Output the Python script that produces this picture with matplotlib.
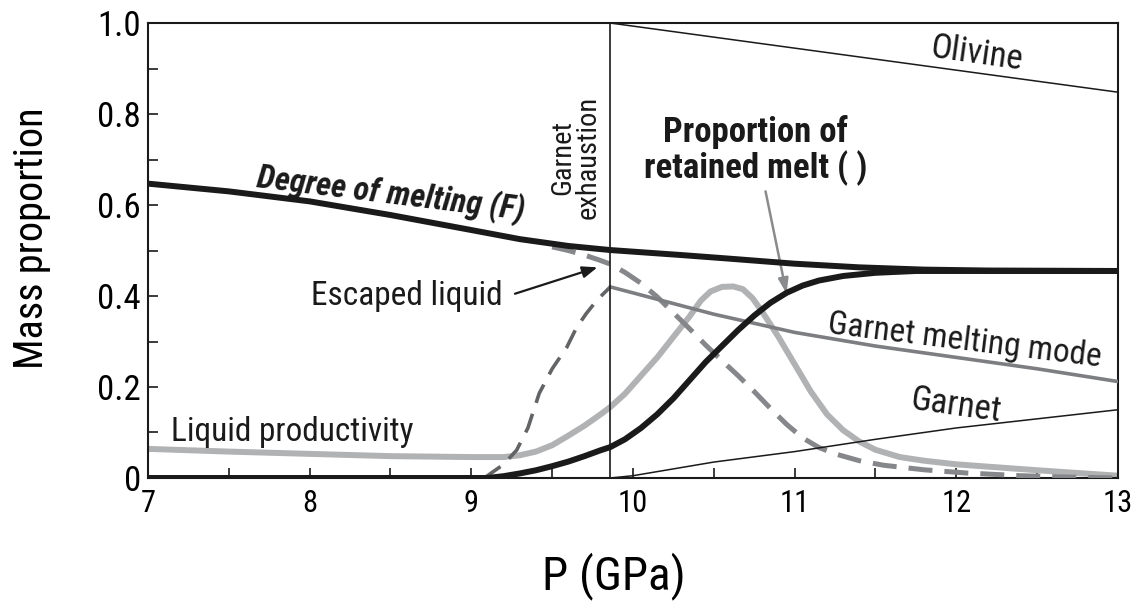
import numpy as np
import matplotlib
matplotlib.use("Agg")
import matplotlib.pyplot as plt
from matplotlib.ticker import MultipleLocator, FixedLocator

plt.rcParams["font.family"] = ["Roboto Condensed", "Archivo Narrow", "DejaVu Sans"]

# pressure where garnet is exhausted
P_GT_OUT = 9.86

# degree of melting F
p_F = [7.0, 7.5, 8.0, 8.5, 9.0, 9.3, 9.6, 9.86, 10.3, 10.6, 11.0, 11.4, 11.8, 12.2, 13.0]
F = [0.647, 0.63, 0.608, 0.578, 0.545, 0.525, 0.51, 0.501, 0.49, 0.482, 0.471, 0.463, 0.458,
     0.456, 0.455]

# proportion of retained melt
p_ret = [7.0, 9.1, 9.2, 9.3, 9.4, 9.5, 9.6, 9.7, 9.8, 9.86, 9.95, 10.05, 10.15, 10.25, 10.35,
         10.45, 10.55, 10.65, 10.75, 10.85, 10.95, 11.05, 11.15, 11.3, 11.5, 11.75, 13.0]
ret = [0.0, 0.0, 0.004, 0.01, 0.017, 0.026, 0.036, 0.048, 0.061, 0.068, 0.085, 0.11, 0.14, 0.175,
       0.215, 0.255, 0.29, 0.325, 0.357, 0.385, 0.407, 0.423, 0.434, 0.444, 0.451, 0.455, 0.455]

# liquid productivity
p_prod = [7.0, 7.5, 8.0, 8.5, 9.0, 9.2, 9.3, 9.4, 9.5, 9.6, 9.7, 9.8, 9.86, 9.95, 10.05, 10.15,
          10.25, 10.35, 10.42, 10.48, 10.55, 10.62, 10.68, 10.74, 10.8, 10.9, 11.0, 11.1, 11.2,
          11.3, 11.4, 11.5, 11.65, 11.8, 12.0, 12.5, 13.0]
prod = [0.064, 0.058, 0.053, 0.048, 0.046, 0.046, 0.05, 0.058, 0.072, 0.093, 0.115, 0.14, 0.156,
        0.185, 0.225, 0.265, 0.31, 0.355, 0.39, 0.41, 0.42, 0.421, 0.415, 0.395, 0.365, 0.31,
        0.25, 0.19, 0.14, 0.105, 0.08, 0.062, 0.046, 0.038, 0.03, 0.017, 0.005]

# escaped liquid: falling branch (thick dashes) and rising branch (thin dashes)
p_esc = [9.5, 9.6, 9.7, 9.8, 9.86, 9.95, 10.05, 10.15, 10.25, 10.35, 10.45, 10.55, 10.65, 10.75,
         10.85, 10.95, 11.05, 11.15, 11.25, 11.4, 11.55, 11.8, 12.06, 12.4, 12.7, 13.0]
esc = [0.508, 0.5, 0.49, 0.478, 0.47, 0.452, 0.428, 0.398, 0.363, 0.328, 0.292, 0.258, 0.225,
       0.19, 0.153, 0.118, 0.088, 0.067, 0.053, 0.038, 0.028, 0.018, 0.011, 0.005, 0.002, 0.0]
p_rise = [9.08, 9.2, 9.28, 9.35, 9.42, 9.5, 9.59, 9.65, 9.71, 9.78, 9.86]
rise = [0.0, 0.03, 0.061, 0.11, 0.186, 0.24, 0.287, 0.33, 0.361, 0.392, 0.42]

# garnet melting mode, garnet, olivine
p_gmm = [9.86, 10.5, 11.0, 11.5, 12.0, 12.5, 13.0]
gmm = [0.42, 0.36, 0.32, 0.29, 0.265, 0.24, 0.212]
p_gt = [9.86, 10.0, 10.5, 11.0, 11.5, 12.0, 12.5, 13.0]
gt = [0.0, 0.005, 0.035, 0.058, 0.085, 0.11, 0.13, 0.15]
p_ol = [9.86, 13.0]
ol = [1.0, 0.848]

fig = plt.figure(figsize=(11.35, 6.11), dpi=100)
ax = fig.add_axes([0.1304, 0.2177, 0.8546, 0.7446])

ax.plot(p_prod, prod, color="#b1b2b4", lw=4.3, solid_joinstyle="round", zorder=2)
ax.plot(p_rise, rise, color="#636466", lw=2.6, dashes=(5.5, 3.2), zorder=3)
ax.plot(p_esc, esc, color="#86878a", lw=3.6, dashes=(4.8, 2.4), zorder=3)
ax.plot(p_gmm, gmm, color="#7d7e81", lw=2.6, zorder=3)
ax.plot(p_gt, gt, color="#1a1a1a", lw=1.1, zorder=3)
ax.plot(p_ol, ol, color="#1a1a1a", lw=1.1, zorder=3)
ax.plot(p_ret, ret, color="#1a1a1a", lw=4.3, solid_joinstyle="round", zorder=4)
ax.plot(p_F, F, color="#1a1a1a", lw=4.3, solid_joinstyle="round", zorder=5)
ax.axvline(P_GT_OUT, color="#1a1a1a", lw=1.2, zorder=4)

ax.set_xlim(7, 13)
ax.set_ylim(0, 1.0)
ax.xaxis.set_major_locator(FixedLocator([7, 8, 9, 10, 11, 12, 13]))
ax.xaxis.set_minor_locator(MultipleLocator(0.5))
ax.yaxis.set_major_locator(FixedLocator([0, 0.2, 0.4, 0.6, 0.8, 1.0]))
ax.yaxis.set_minor_locator(MultipleLocator(0.1))
ax.set_yticklabels(["0", "0.2", "0.4", "0.6", "0.8", "1.0"])
ax.tick_params(which="both", direction="in", length=7, width=1.2, color="#1a1a1a")
ax.tick_params(axis="x", labelsize=22, pad=8)
ax.tick_params(axis="y", labelsize=25, pad=5)
for s in ax.spines.values():
    s.set_linewidth(1.5)
    s.set_color("#1a1a1a")

ax.set_xlabel("P (GPa)", fontsize=34)
ax.xaxis.set_label_coords(0.48, -0.163)
ax.set_ylabel("Mass proportion", fontsize=29)
ax.yaxis.set_label_coords(-0.1, 0.527)

tc = "#1a1a1a"
ax.text(8.50, 0.624, "Degree of melting (F)", fontsize=23.5, fontweight="bold", style="italic",
        rotation=-7, ha="center", va="center", color=tc)
ax.text(8.60, 0.40, "Escaped liquid", fontsize=24, ha="center", va="center", color=tc)
ax.text(7.89, 0.10, "Liquid productivity", fontsize=24, ha="center", va="center", color=tc)
ax.text(9.645, 0.705, "Garnet\nexhaustion", fontsize=20.5, rotation=90, ha="center",
        va="center", linespacing=0.95, color=tc)
ax.text(10.76, 0.72, "Proportion of\nretained melt ( )", fontsize=25, fontweight="bold",
        ha="center", va="center", linespacing=1.05, color=tc)
ax.text(12.13, 0.932, "Olivine", fontsize=25, rotation=-8, ha="center", va="center", color=tc)
ax.text(12.05, 0.302, "Garnet melting mode", fontsize=24, rotation=-7, ha="center",
        va="center", color=tc)
ax.text(12.0, 0.158, "Garnet", fontsize=25, rotation=-8, ha="center", va="center", color=tc)

ax.annotate("", xy=(9.78, 0.463), xytext=(9.27, 0.405),
            arrowprops=dict(arrowstyle="-|>,head_length=0.9,head_width=0.35", color=tc, lw=1.6,
                            shrinkA=0, shrinkB=0))
ax.annotate("", xy=(10.95, 0.405), xytext=(10.82, 0.63),
            arrowprops=dict(arrowstyle="-|>,head_length=0.9,head_width=0.3", color="#8a8b8d",
                            lw=1.8, shrinkA=0, shrinkB=0))

fig.savefig("out.png", dpi=100)
